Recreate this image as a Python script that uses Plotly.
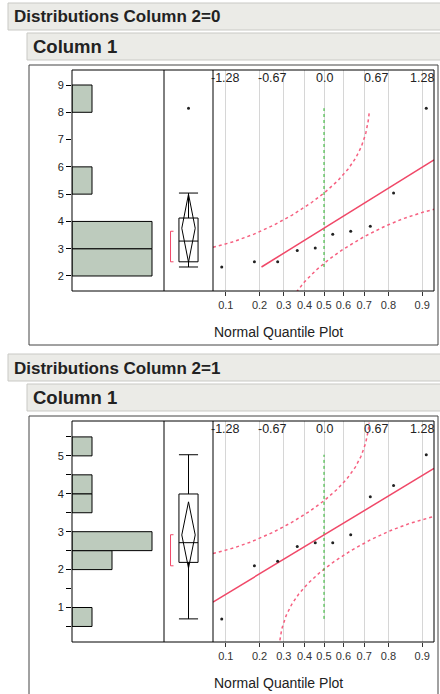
import numpy as np
import plotly.graph_objects as go
from statistics import NormalDist

W, H = 440, 694
ND = NormalDist()

# ---------------- data ----------------
group_titles = ["Distributions Column 2=0", "Distributions Column 2=1"]
column_title = "Column 1"
col1_group0 = [2.33, 2.52, 2.52, 2.93, 3.03, 3.53, 3.64, 3.82, 5.04, 8.15]
col1_group1 = [0.70, 2.10, 2.22, 2.61, 2.71, 2.71, 2.92, 3.92, 4.22, 5.03]
groups = [col1_group0, col1_group1]
hist_bin_start = [2.0, 0.5]
hist_bin_size = [1.0, 0.5]
y_ranges = [[1.45, 9.55], [0.09, 5.92]]
y_minor_dtick = [None, 0.5]
shortest_half = [[2.52, 3.64], [2.10, 2.92]]
count_range = [0, 4.6]
prob_ticks = [0.1, 0.2, 0.3, 0.4, 0.5, 0.6, 0.7, 0.8, 0.9]
prob_labels = ["0.1", "0.2", "0.3", "0.4", "0.5", "0.6", "0.7", "0.8", "0.9"]
normal_ticks_p = [0.1, 0.25, 0.5, 0.75, 0.9]
normal_labels = ["-1.28", "-0.67", "0.0", "0.67", "1.28"]
z_range = [-1.449, 1.436]
lilliefors_D = 0.27
t_crit = 2.262
band_cap = 2.5
axis_title = "Normal Quantile Plot"

# ---------------- helpers ----------------
def px(x):
    return x / W

def py(y):
    return 1 - y / H

def names(k):
    if k == 1:
        return "xaxis", "yaxis", "x", "y"
    return f"xaxis{k}", f"yaxis{k}", f"x{k}", f"y{k}"

FONT = "Liberation Sans, Arial, Helvetica, sans-serif"
SAGE = "#bdcbbd"
RED = "rgb(240,72,104)"
PINK = "rgb(246,96,128)"
GREEN = "rgb(40,180,40)"

fig = go.Figure()
layout = {}
shapes = []
annotations = []

for s, vals in enumerate(groups):
    o = 351 * s
    vals = np.array(sorted(vals))
    n = len(vals)
    b = 3 * s
    xh, yh, xhr, yhr = names(b + 1)
    xb, yb, xbr, ybr = names(b + 2)
    xq, yq, xqr, yqr = names(b + 3)
    ydom = [py(291 + o), py(70 + o)]

    # headers
    shapes.append(dict(type="rect", xref="paper", yref="paper",
                       x0=px(8), x1=px(441), y0=py(30 + o), y1=py(3 + o),
                       fillcolor="#ebebe7", line=dict(color="#c9c9c5", width=1), layer="below"))
    annotations.append(dict(text="<b>" + group_titles[s] + "</b>", xref="paper", yref="paper",
                            x=px(12), y=py(17 + o), xanchor="left", yanchor="middle",
                            showarrow=False, font=dict(size=17, color="#222", family=FONT)))
    shapes.append(dict(type="rect", xref="paper", yref="paper",
                       x0=px(27), x1=px(441), y0=py(60 + o), y1=py(33 + o),
                       fillcolor="#ebebe7", line=dict(color="#c9c9c5", width=1), layer="below"))
    annotations.append(dict(text="<b>" + column_title + "</b>", xref="paper", yref="paper",
                            x=px(31), y=py(47 + o), xanchor="left", yanchor="middle",
                            showarrow=False, font=dict(size=18.5, color="#222", family=FONT)))
    # outer frame
    shapes.append(dict(type="rect", xref="paper", yref="paper",
                       x0=px(29), x1=px(438), y0=py(345 + o), y1=py(65 + o),
                       line=dict(color="#444", width=1)))
    # inner frame + separators
    shapes.append(dict(type="rect", xref="paper", yref="paper",
                       x0=px(72), x1=px(434), y0=ydom[0], y1=ydom[1],
                       line=dict(color="black", width=1)))
    for xs in (164, 213):
        shapes.append(dict(type="line", xref="paper", yref="paper",
                           x0=px(xs), x1=px(xs), y0=ydom[0], y1=ydom[1],
                           line=dict(color="black", width=1)))
    annotations.append(dict(text=axis_title, xref="paper", yref="paper",
                            x=px(212), y=py(332 + o), xanchor="left", yanchor="middle",
                            showarrow=False, font=dict(size=14, color="#222", family=FONT)))
    # top normal-quantile labels
    for p, lab in zip(normal_ticks_p, normal_labels):
        annotations.append(dict(text=lab, xref=xqr, yref="paper", x=ND.inv_cdf(p), y=py(78 + o),
                                xanchor="center", yanchor="middle", showarrow=False,
                                font=dict(size=12.5, color="#222", family=FONT)))

    # ---- histogram ----
    fig.add_trace(go.Histogram(
        y=vals, orientation="h",
        ybins=dict(start=hist_bin_start[s], end=vals.max() + hist_bin_size[s], size=hist_bin_size[s]),
        marker=dict(color=SAGE, line=dict(color="black", width=1)),
        xaxis=xhr, yaxis=yhr, showlegend=False, hoverinfo="skip"))
    layout[xh] = dict(domain=[px(72), px(164)], range=count_range, visible=False, anchor=yhr)
    yax = dict(domain=ydom, range=y_ranges[s], anchor=xhr, tickmode="linear", tick0=0, dtick=1,
               ticks="outside", ticklen=5, tickcolor="black", showgrid=False, zeroline=False,
               showline=False, tickfont=dict(size=11, color="#222", family=FONT))
    if y_minor_dtick[s]:
        yax["minor"] = dict(dtick=y_minor_dtick[s], tick0=0, ticks="outside", ticklen=5,
                            tickcolor="black", showgrid=False)
    layout[yh] = yax

    # ---- box plot ----
    q1, med, q3 = np.quantile(vals, [0.25, 0.5, 0.75], method="weibull")
    iqr = q3 - q1
    inside = vals[(vals >= q1 - 1.5 * iqr) & (vals <= q3 + 1.5 * iqr)]
    lf, uf = inside.min(), inside.max()
    outl = vals[(vals < lf) | (vals > uf)]
    fig.add_trace(go.Box(x=[0.5], q1=[q1], median=[med], q3=[q3], lowerfence=[lf], upperfence=[uf],
                         width=0.39, whiskerwidth=1, fillcolor="rgba(0,0,0,0)",
                         line=dict(color="black", width=1), boxpoints=False,
                         xaxis=xbr, yaxis=ybr, showlegend=False, hoverinfo="skip"))
    if len(outl):
        fig.add_trace(go.Scatter(x=[0.5] * len(outl), y=outl, mode="markers",
                                 marker=dict(size=3, color="#222"), xaxis=xbr, yaxis=ybr,
                                 showlegend=False, hoverinfo="skip"))
    mean = vals.mean()
    sd = vals.std(ddof=1)
    ci = t_crit * sd / np.sqrt(n)
    hw = 0.137
    fig.add_trace(go.Scatter(x=[0.5, 0.5 + hw, 0.5, 0.5 - hw, 0.5],
                             y=[mean - ci, mean, mean + ci, mean, mean - ci],
                             mode="lines", line=dict(color="black", width=1),
                             xaxis=xbr, yaxis=ybr, showlegend=False, hoverinfo="skip"))
    lo, hi = shortest_half[s]
    fig.add_trace(go.Scatter(x=[0.194, 0.133, 0.133, 0.194], y=[lo, lo, hi, hi],
                             mode="lines", line=dict(color=RED, width=1),
                             xaxis=xbr, yaxis=ybr, showlegend=False, hoverinfo="skip"))
    layout[xb] = dict(domain=[px(164), px(213)], range=[0, 1], visible=False, anchor=ybr)
    layout[yb] = dict(domain=ydom, range=y_ranges[s], visible=False, anchor=xbr)

    # ---- normal quantile plot ----
    zq = np.array([ND.inv_cdf((i + 1) / (n + 1)) for i in range(n)])
    zgrid = np.linspace(z_range[0], z_range[1], 400)
    up_x, up_y, lo_x, lo_y = [], [], [], []
    for z in zgrid:
        p = ND.cdf(z)
        if p + lilliefors_D < ND.cdf(band_cap):
            up_x.append(z)
            up_y.append(mean + sd * ND.inv_cdf(p + lilliefors_D))
        if p - lilliefors_D > ND.cdf(-band_cap):
            lo_x.append(z)
            lo_y.append(mean + sd * ND.inv_cdf(p - lilliefors_D))
    fig.add_trace(go.Scatter(x=up_x, y=up_y, mode="lines", line=dict(color=PINK, width=1.5, dash="dot"),
                             xaxis=xqr, yaxis=yqr, showlegend=False, hoverinfo="skip"))
    fig.add_trace(go.Scatter(x=lo_x, y=lo_y, mode="lines", line=dict(color=PINK, width=1.5, dash="dot"),
                             xaxis=xqr, yaxis=yqr, showlegend=False, hoverinfo="skip"))
    fig.add_trace(go.Scatter(x=[0, 0], y=[vals.min(), vals.max()], mode="lines",
                             line=dict(color=GREEN, width=1, dash="dot"),
                             xaxis=xqr, yaxis=yqr, showlegend=False, hoverinfo="skip"))
    z0 = max(z_range[0], (vals.min() - mean) / sd)
    z1 = min(z_range[1], (vals.max() - mean) / sd)
    fig.add_trace(go.Scatter(x=[z0, z1], y=[mean + sd * z0, mean + sd * z1], mode="lines",
                             line=dict(color=RED, width=1.5),
                             xaxis=xqr, yaxis=yqr, showlegend=False, hoverinfo="skip"))
    fig.add_trace(go.Scatter(x=zq, y=vals, mode="markers", marker=dict(size=3, color="#222"),
                             xaxis=xqr, yaxis=yqr, showlegend=False, hoverinfo="skip"))
    layout[xq] = dict(domain=[px(213), px(434)], range=z_range, anchor=yqr,
                      tickmode="array", tickvals=[ND.inv_cdf(p) for p in prob_ticks],
                      ticktext=prob_labels, ticks="outside", ticklen=4, tickcolor="#333",
                      showgrid=True, gridcolor="#d6d6d6", gridwidth=1, zeroline=False,
                      showline=False, tickfont=dict(size=11, color="#333", family=FONT))
    layout[yq] = dict(domain=ydom, range=y_ranges[s], visible=False, anchor=xqr)

fig.update_layout(width=W, height=H, margin=dict(l=0, r=0, t=0, b=0),
                  paper_bgcolor="white", plot_bgcolor="white", bargap=0,
                  shapes=shapes, annotations=annotations, showlegend=False,
                  font=dict(family=FONT), **layout)
fig.write_html("out.html", config={"displayModeBar": False, "staticPlot": True},
               post_script="document.body.style.margin='0';document.body.style.overflow='hidden';")
